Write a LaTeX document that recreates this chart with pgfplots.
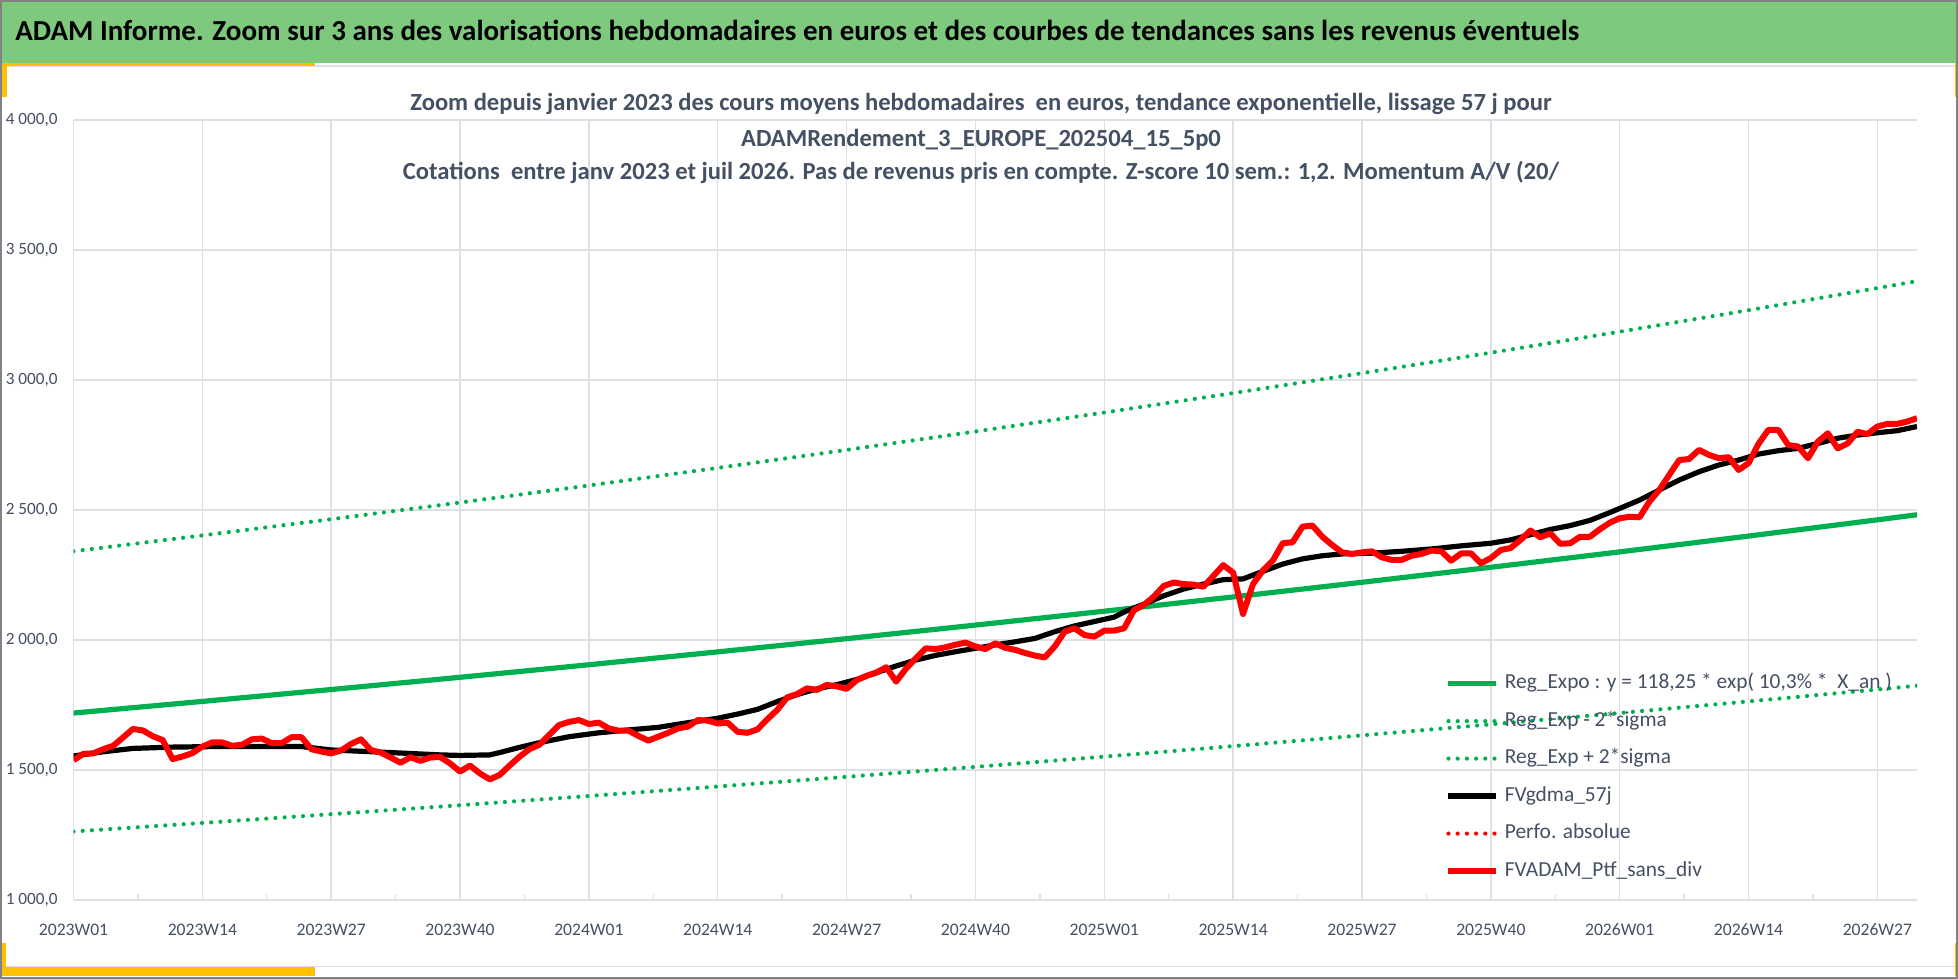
\documentclass[border=0pt]{standalone}
\usepackage{fontspec}
\setmainfont{Carlito}
\usepackage{pgfplots}
\pgfplotsset{compat=1.18}
\usepackage{pgfplotstable}

\definecolor{bannergreen}{RGB}{127,201,127}
\definecolor{xlgreen}{RGB}{0,176,80}
\definecolor{gold}{RGB}{255,192,0}
\definecolor{txtgray}{RGB}{68,80,100}
\definecolor{gridgray}{RGB}{222,224,230}
\definecolor{bordergray}{RGB}{130,130,130}

\pgfplotstableread{
w v
0 1538
1 1562
2 1564
3 1580
4 1593
5 1625
6 1658
7 1652
8 1630
9 1615
10 1542
11 1552
12 1565
13 1590
14 1606
15 1606
16 1593
17 1597
18 1618
19 1621
20 1603
21 1603
22 1626
23 1626
24 1580
25 1571
26 1564
27 1575
28 1600
29 1618
30 1577
31 1567
32 1548
33 1528
34 1549
35 1535
36 1548
37 1550
38 1525
39 1494
40 1517
41 1487
42 1464
43 1481
44 1517
45 1551
46 1580
47 1597
48 1635
49 1673
50 1685
51 1692
52 1677
53 1682
54 1660
55 1651
56 1651
57 1631
58 1613
59 1628
60 1643
61 1660
62 1667
63 1692
64 1690
65 1679
66 1682
67 1647
68 1643
69 1656
70 1695
71 1731
72 1779
73 1792
74 1814
75 1808
76 1827
77 1822
78 1812
79 1845
80 1862
81 1875
82 1895
83 1840
84 1890
85 1930
86 1968
87 1965
88 1972
89 1982
90 1990
91 1975
92 1965
93 1987
94 1970
95 1962
96 1950
97 1940
98 1933
99 1975
100 2032
101 2045
102 2019
103 2013
104 2036
105 2036
106 2045
107 2115
108 2135
109 2167
110 2208
111 2221
112 2215
113 2213
114 2205
115 2246
116 2288
117 2259
118 2100
119 2215
120 2267
121 2305
122 2372
123 2376
124 2436
125 2440
126 2397
127 2365
128 2337
129 2331
130 2337
131 2341
132 2318
133 2308
134 2308
135 2324
136 2331
137 2344
138 2341
139 2305
140 2333
141 2333
142 2295
143 2315
144 2346
145 2354
146 2385
147 2421
148 2395
149 2410
150 2370
151 2372
152 2397
153 2397
154 2426
155 2451
156 2468
157 2474
158 2472
159 2532
160 2577
161 2635
162 2692
163 2696
164 2731
165 2712
166 2699
167 2703
168 2654
169 2680
170 2754
171 2808
172 2808
173 2750
174 2744
175 2699
176 2763
177 2795
178 2737
179 2756
180 2801
181 2792
182 2821
183 2831
184 2831
185 2840
186 2853
}\redtab

\pgfplotstableread{
w v
0 1554
3 1570
6 1583
10 1588
14 1590
18 1590
23 1590
26 1577
32 1567
37 1558
39 1556
42 1558
43 1567
45 1587
47 1605
50 1628
53 1643
56 1654
59 1664
62 1682
65 1699
67 1715
69 1733
71 1763
73 1790
75 1812
77 1828
79 1848
81 1874
83 1900
85 1923
87 1941
89 1955
91 1968
93 1981
95 1993
97 2006
99 2032
101 2054
103 2071
105 2088
106 2108
108 2138
110 2170
112 2196
114 2215
116 2232
118 2235
120 2264
122 2292
124 2312
126 2324
128 2331
131 2334
134 2341
137 2350
140 2362
143 2372
145 2385
147 2405
149 2425
151 2440
153 2460
155 2490
156 2506
158 2538
160 2577
162 2615
164 2647
166 2673
168 2692
170 2715
172 2728
174 2737
176 2756
178 2776
180 2788
182 2797
184 2805
186 2821
}\blacktab

\pgfplotstableread{
w m u l
0 1719.0 2341.3 1263.5
13 1763.7 2402.2 1296.3
26 1809.5 2464.5 1330.0
39 1856.5 2528.6 1364.5
52 1904.8 2594.3 1400.0
65 1954.3 2661.8 1436.4
78 2005.1 2731.0 1473.7
91 2057.2 2801.9 1512.0
104 2110.7 2874.8 1551.4
117 2165.6 2949.5 1591.7
130 2221.9 3026.2 1633.1
143 2279.6 3104.8 1675.5
156 2338.9 3185.6 1719.1
169 2399.7 3268.4 1763.8
182 2462.1 3353.4 1809.6
186 2481.7 3380.1 1824.0
}\regtab

\begin{document}
\begin{tikzpicture}[x=1bp,y=1bp]
\path[use as bounding box] (0,0) rectangle (979,489.5);
\fill[white] (0,0) rectangle (979,489.5);
\fill[bannergreen] (0,458) rectangle (979,489.5);
\draw[gridgray, line width=0.8bp] (0,456.4) -- (979,456.4);
\fill[gold] (0,456.3) rectangle (157.5,458);
\fill[gold] (0,441) rectangle (3.5,457);
\fill[gold] (977.5,441) rectangle (979,458);
\draw[gridgray, line width=0.8bp] (0,6.2) -- (979,6.2);
\fill[gold] (0,1.5) rectangle (157.5,6);
\fill[gold] (0,1.5) rectangle (3,18);
\fill[gold] (977.5,1.5) rectangle (979,18);
\draw[bordergray, line width=1bp] (0.5,0.5) rectangle (978.5,489);
\node[anchor=base west, inner sep=0pt, font=\bfseries\fontsize{14.5bp}{17bp}\selectfont] at (7.5,469.3) {ADAM Informe. Zoom sur 3 ans des valorisations hebdomadaires en euros et des courbes de tendances sans les revenus éventuels};

\begin{axis}[
  at={(36.75bp,39.5bp)}, anchor=south west,
  scale only axis, width=921.75bp, height=390bp,
  xmin=0, xmax=186, ymin=1000, ymax=4000,
  xtick={0,13,...,182},
  xticklabels={2023W01,2023W14,2023W27,2023W40,2024W01,2024W14,2024W27,2024W40,2025W01,2025W14,2025W27,2025W40,2026W01,2026W14,2026W27},
  minor xtick={6.5,19.5,...,175.5},
  ytick={1000,1500,...,4000},
  yticklabels={{1 000,0},{1 500,0},{2 000,0},{2 500,0},{3 000,0},{3 500,0},{4 000,0}},
  xmajorgrids, ymajorgrids,
  grid style={gridgray, line width=0.7bp},
  axis line style={draw=none},
  major tick length=0pt,
  minor tick length=2.8bp,
  tick align=inside,
  xtick pos=bottom, ytick pos=left,
  minor tick style={gridgray, line width=0.7bp},
  xticklabel style={anchor=center, yshift=-15bp, inner sep=0pt, font=\fontsize{8.8bp}{10bp}\selectfont, text=txtgray},
  yticklabel style={anchor=east, xshift=-7.75bp, inner sep=0pt, font=\fontsize{8.6bp}{10bp}\selectfont, text=txtgray},
  legend cell align=left,
  legend style={at={(0.744,0.2909)}, anchor=north west, draw=none, fill=none, inner sep=0pt,
    row sep=8.65bp, column sep=2.8bp, font=\fontsize{10.7bp}{12bp}\selectfont, text=txtgray,
    nodes={inner sep=0pt, text height=7.7bp, text depth=2.4bp}},
  legend image code/.code={\draw[#1] (0bp,0bp) -- (23.9bp,0bp);},
]
\addplot[xlgreen, line width=2.6bp] table[x=w, y=m] {\regtab};
\addlegendentry{Reg\_Expo : y = 118,25 * exp( 10,3\% *\ \ X\_an )}
\addplot[xlgreen, line width=2.1bp, line cap=round, dash pattern=on 0bp off 4.6bp] table[x=w, y=l] {\regtab};
\addlegendentry{Reg\_Exp - 2*sigma}
\addplot[xlgreen, line width=2.1bp, line cap=round, dash pattern=on 0bp off 4.6bp] table[x=w, y=u] {\regtab};
\addlegendentry{Reg\_Exp + 2*sigma}
\addplot[black, line width=2.6bp, line join=round] table[x=w, y=v] {\blacktab};
\addlegendentry{FVgdma\_57j}
\addlegendimage{red, line width=2.1bp, line cap=round, dash pattern=on 0bp off 4.6bp}
\addlegendentry{Perfo. absolue}
\addplot[red, line width=3bp, line join=round] table[x=w, y=v] {\redtab};
\addlegendentry{FVADAM\_Ptf\_sans\_div}
\end{axis}

\begin{scope}[every node/.style={anchor=base, inner sep=0pt, text=txtgray, font=\bfseries\fontsize{12.3bp}{14bp}\selectfont}]
\node at (490.5,434.3) {Zoom depuis janvier 2023 des cours moyens hebdomadaires\ \ en euros, tendance exponentielle, lissage 57 j pour};
\node at (490.5,416.1) {ADAMRendement\_3\_EUROPE\_202504\_15\_5p0};
\node at (490.5,399.6) {Cotations\ \ entre janv 2023 et juil 2026. Pas de revenus pris en compte. Z-score 10 sem.: 1,2. Momentum A/V (20/};
\end{scope}
\end{tikzpicture}
\end{document}
